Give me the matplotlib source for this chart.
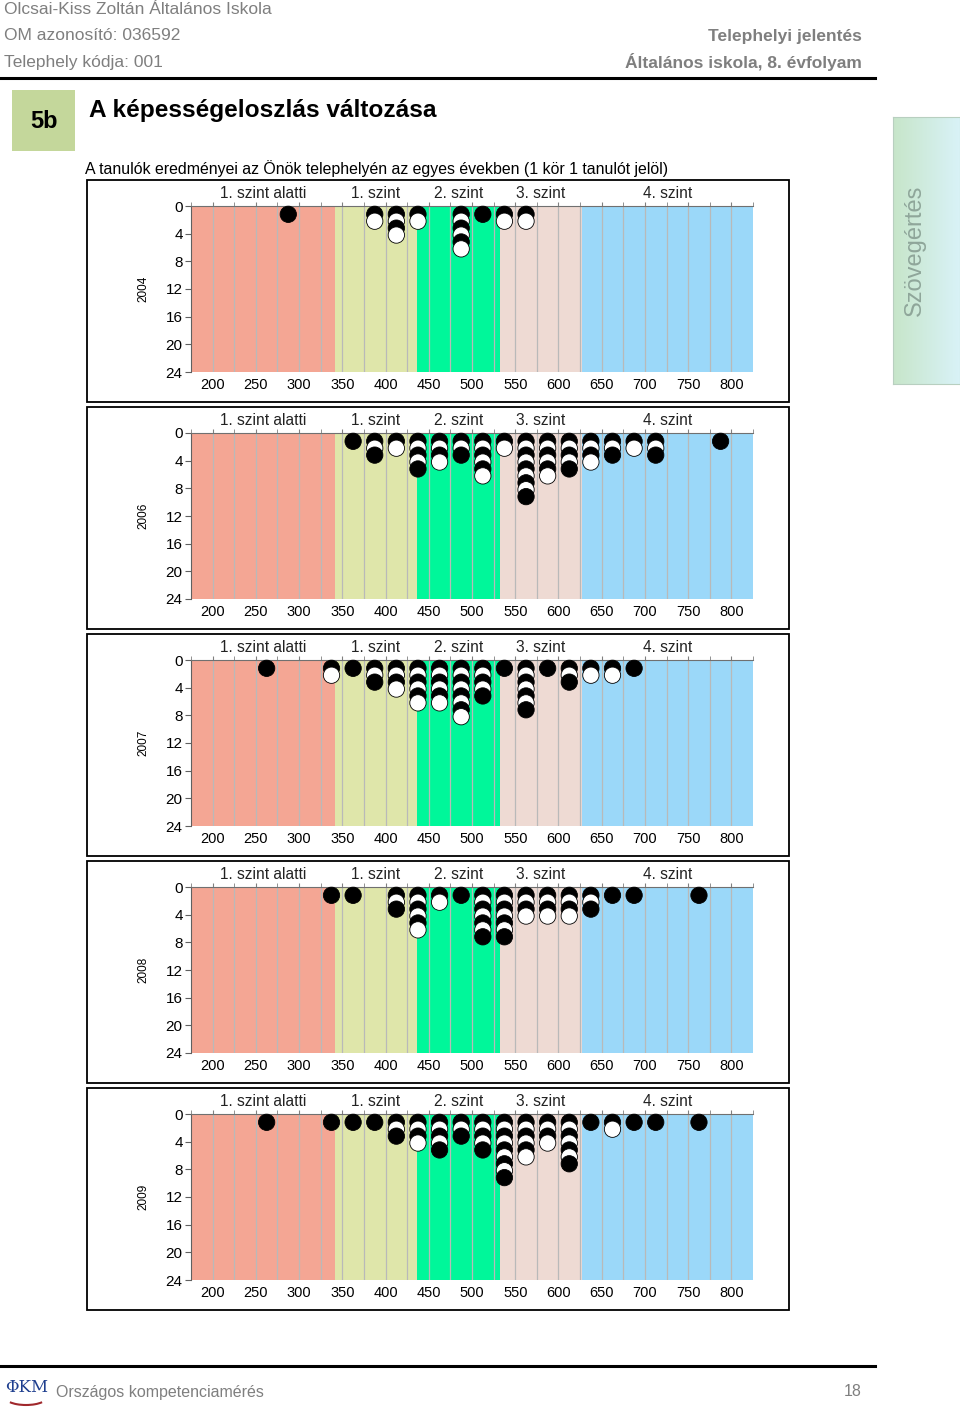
import matplotlib.pyplot as plt
import numpy as np
from matplotlib.patches import Rectangle, Arc
from matplotlib.lines import Line2D
from matplotlib.ticker import MultipleLocator

plt.rcParams['font.family'] = ['Liberation Sans', 'DejaVu Sans']

W, H = 960, 1409

years = ['2004', '2006', '2007', '2008', '2009']

# bin centres (points) and number of students per bin, one pair per year
x_2004 = [287.5, 387.5, 412.5, 437.5, 487.5, 512.5, 537.5, 562.5]
n_2004 = [1, 2, 4, 2, 6, 1, 2, 2]
x_2006 = [362.5, 387.5, 412.5, 437.5, 462.5, 487.5, 512.5, 537.5, 562.5,
          587.5, 612.5, 637.5, 662.5, 687.5, 712.5, 787.5]
n_2006 = [1, 3, 2, 5, 4, 3, 6, 2, 9, 6, 5, 4, 3, 2, 3, 1]
x_2007 = [262.5, 337.5, 362.5, 387.5, 412.5, 437.5, 462.5, 487.5, 512.5,
          537.5, 562.5, 587.5, 612.5, 637.5, 662.5, 687.5]
n_2007 = [1, 2, 1, 3, 4, 6, 6, 8, 5, 1, 7, 1, 3, 2, 2, 1]
x_2008 = [337.5, 362.5, 412.5, 437.5, 462.5, 487.5, 512.5, 537.5, 562.5,
          587.5, 612.5, 637.5, 662.5, 687.5, 762.5]
n_2008 = [1, 1, 3, 6, 2, 1, 7, 7, 4, 4, 4, 3, 1, 1, 1]
x_2009 = [262.5, 337.5, 362.5, 387.5, 412.5, 437.5, 462.5, 487.5, 512.5,
          537.5, 562.5, 587.5, 612.5, 637.5, 662.5, 687.5, 712.5, 762.5]
n_2009 = [1, 1, 1, 1, 3, 4, 5, 3, 5, 9, 6, 4, 7, 1, 2, 1, 1, 1]

panel_x = [x_2004, x_2006, x_2007, x_2008, x_2009]
panel_n = [n_2004, n_2006, n_2007, n_2008, n_2009]

level_names = ['1. szint alatti', '1. szint', '2. szint', '3. szint', '4. szint']
level_edges = [175, 341, 436, 532, 627, 825]
level_colors = ['#f4a694', '#dfe6aa', '#00f79a', '#eedad3', '#9bd8f9']

x_ticks = np.arange(200, 801, 50)
y_ticks = np.arange(0, 25, 4)


def fx(x):
    return x / W


def fy(y):
    return 1 - y / H


fig = plt.figure(figsize=(W / 100, H / 100), dpi=100)

# header
grey = '#7f7f7f'
fig.text(fx(4), fy(10), 'Olcsai-Kiss Zoltán Általános Iskola', fontsize=12.5, color=grey, va='center')
fig.text(fx(4), fy(36), 'OM azonosító: 036592', fontsize=12.5, color=grey, va='center')
fig.text(fx(4), fy(62), 'Telephely kódja: 001', fontsize=12.5, color=grey, va='center')
fig.text(fx(862), fy(36), 'Telephelyi jelentés', fontsize=12.5, color=grey, va='center',
         ha='right', fontweight='bold')
fig.text(fx(862), fy(62), 'Általános iskola, 8. évfolyam', fontsize=12.5, color=grey, va='center',
         ha='right', fontweight='bold')
fig.add_artist(Line2D([0, fx(875)], [fy(78), fy(78)], color='black', lw=2.2))

fig.add_artist(Rectangle((fx(12), fy(151)), fx(63), 61 / H, facecolor='#c4d79b',
                         edgecolor='none', transform=fig.transFigure))
fig.text(fx(44), fy(122), '5b', fontsize=17, fontweight='bold', ha='center', va='center')
fig.text(fx(89), fy(111), 'A képességeloszlás változása', fontsize=17.6, fontweight='bold', va='center')
fig.text(fx(85), fy(169), 'A tanulók eredményei az Önök telephelyén az egyes években (1 kör 1 tanulót jelöl)',
         fontsize=11.4, va='center')

# side tab
tab = fig.add_axes([fx(893), fy(384), fx(67), 267 / H])
grad = np.linspace(0, 1, 64)[None, :]
c0 = np.array([0.78, 0.90, 0.79])
c1 = np.array([0.85, 0.95, 0.97])
img = c0[None, None, :] * (1 - grad[..., None]) + c1[None, None, :] * grad[..., None]
tab.imshow(img, aspect='auto', extent=[0, 1, 0, 1])
tab.set_xlim(0, 1)
tab.set_ylim(0, 1)
tab.set_xticks([])
tab.set_yticks([])
for s in tab.spines.values():
    s.set_color('#b8cfc0')
tab.text(0.33, 0.5, 'Szövegértés', rotation=90, fontsize=17, color='#8fa69a',
         ha='center', va='center', transform=tab.transAxes)

# panels
for i, year in enumerate(years):
    top = 180 + 227 * i
    fig.add_artist(Rectangle((fx(87), fy(top + 222)), fx(702), 222 / H, fill=False,
                             edgecolor='black', lw=1.3, transform=fig.transFigure))
    ax = fig.add_axes([fx(191), fy(top + 192), fx(562), 166 / H])
    ax.set_xlim(level_edges[0], level_edges[-1])
    ax.set_ylim(24, 0)
    for j in range(len(level_names)):
        ax.axvspan(level_edges[j], level_edges[j + 1], color=level_colors[j], lw=0, zorder=0)
        ax.text((level_edges[j] + level_edges[j + 1]) / 2, -1.75, level_names[j],
                ha='center', va='center', fontsize=11.2, color='#222222')
    for g in np.arange(200, 801, 25):
        ax.axvline(g, color='#b9b9b9', lw=0.9, zorder=1)

    xs, ys, cs = [], [], []
    for x, n in zip(panel_x[i], panel_n[i]):
        for k in range(n):
            xs.append(x)
            ys.append(k + 1.2)
            cs.append('black' if k % 2 == 0 else 'white')
    ax.scatter(xs, ys, s=138, c=cs, edgecolors='black', linewidths=0.6, zorder=3, clip_on=False)

    ax.set_xticks(x_ticks)
    ax.xaxis.set_minor_locator(MultipleLocator(25))
    ax.set_yticks(y_ticks)
    ax.tick_params(axis='x', which='both', bottom=False, top=True, labelbottom=True,
                   length=3, direction='out', color='#808080', labelsize=10.5, pad=1)
    ax.tick_params(axis='y', length=4, color='#606060', labelsize=11, pad=2)
    for side in ['right', 'bottom']:
        ax.spines[side].set_visible(False)
    ax.spines['left'].set_color('#606060')
    ax.spines['top'].set_color('#707070')
    ax.text(-0.084, 0.5, year, rotation=90, fontsize=8.5, ha='center', va='center',
            transform=ax.transAxes)

# footer
fig.add_artist(Line2D([0, fx(875)], [fy(1366), fy(1366)], color='black', lw=2.2))
fig.text(fx(5), fy(1388), 'ΦKM', fontsize=12, color='#1f3f8f', family='DejaVu Serif', va='center')
fig.add_artist(Arc((fx(26), fy(1398)), fx(40), 14 / H, theta1=190, theta2=350,
                   color='#a0282c', lw=1.5, transform=fig.transFigure))
fig.text(fx(56), fy(1392), 'Országos kompetenciamérés', fontsize=11.5, color=grey, va='center')
fig.text(fx(862), fy(1392), '18', fontsize=11.5, color=grey, va='center', ha='right')

fig.savefig('out.png', dpi=100)
